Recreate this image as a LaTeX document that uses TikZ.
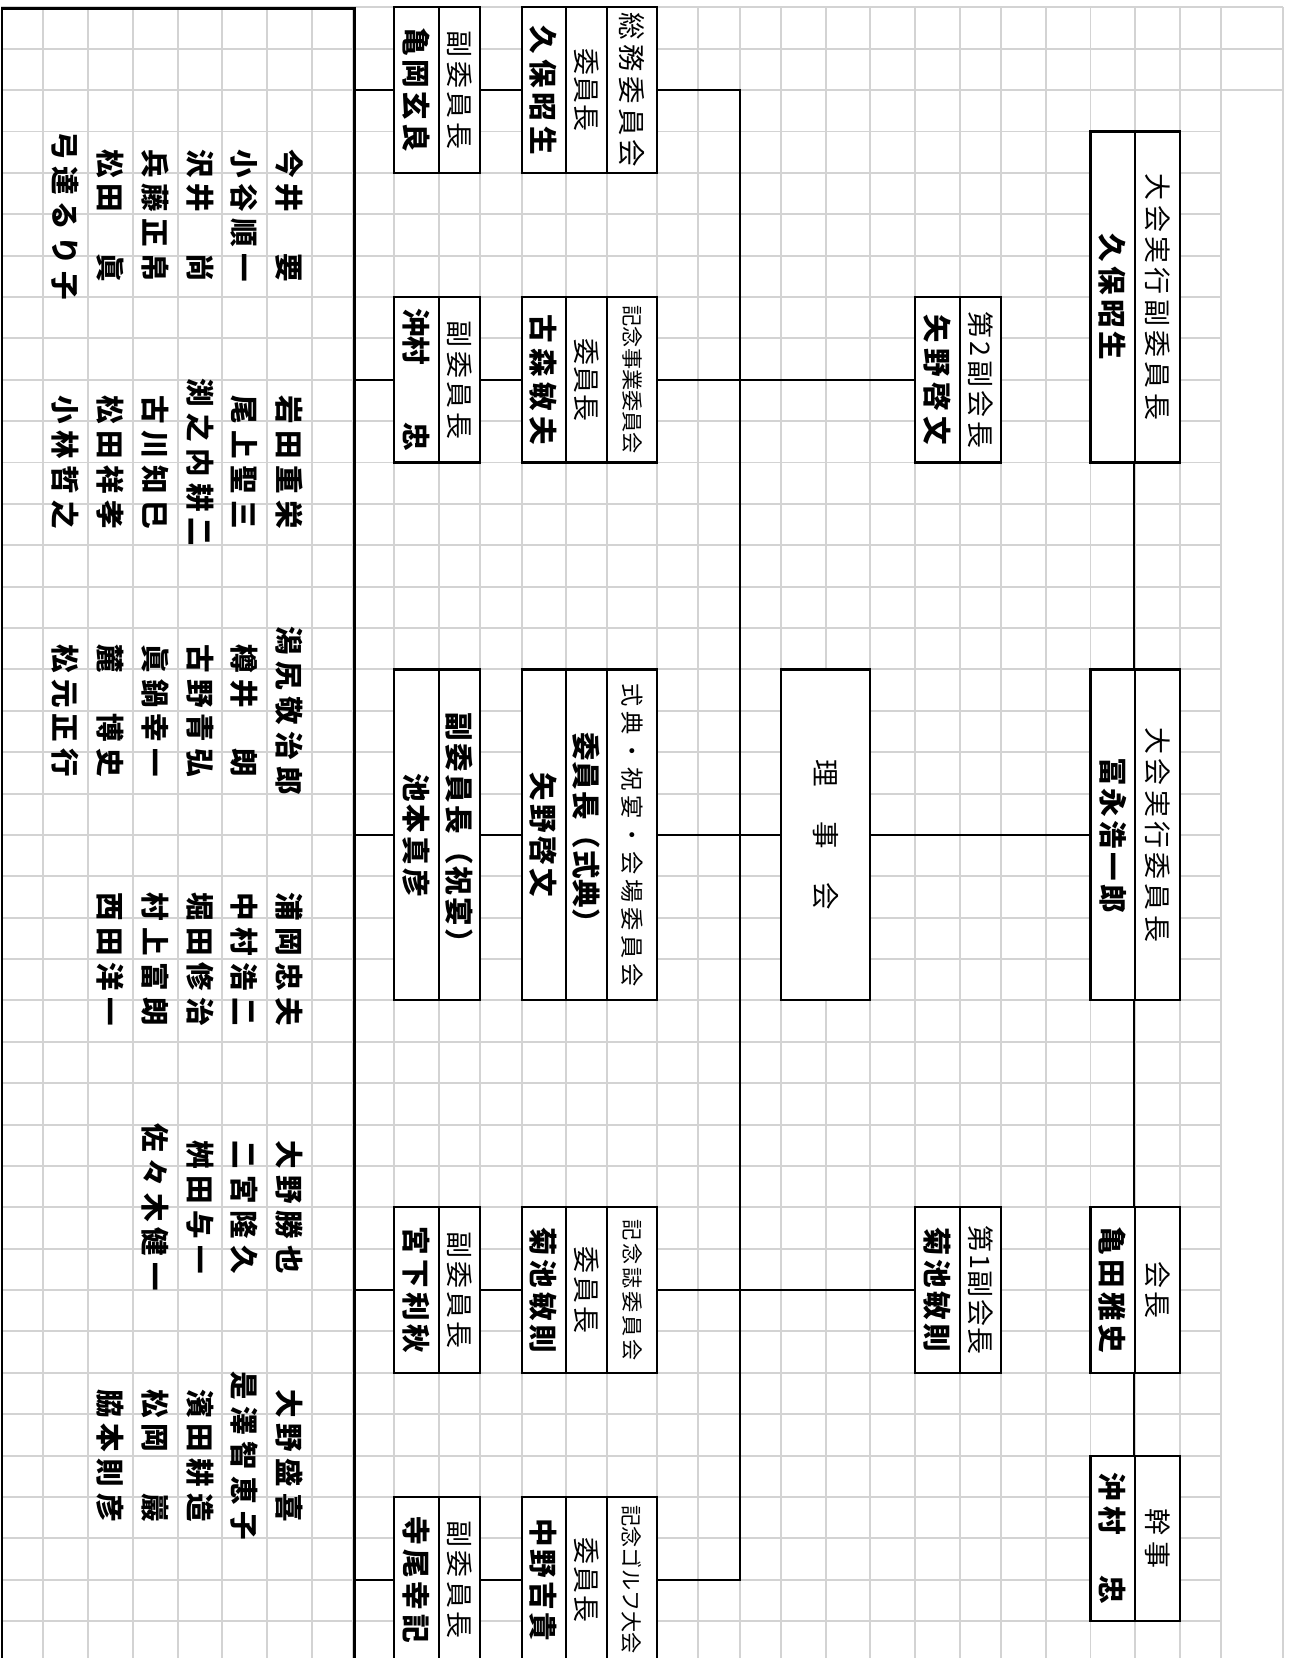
\documentclass[tikz,border=0pt]{standalone}
\usepackage{fontspec}
\usepackage{graphicx}
\newfontfamily\jp{Noto Sans CJK JP}
\definecolor{gridgray}{RGB}{211,211,211}
% full-width blank
\newcommand\zs{\phantom{国}}
% characters spread over a given length
\def\spreadA#1#2{#1\ifx\relax#2\else\hfill\expandafter\spreadA\expandafter#2\fi}
% characters with a fixed gap
\def\gapA#1#2{#1\ifx\relax#2\else\hskip6pt\expandafter\gapA\expandafter#2\fi}
\newcommand\vtext[2]{\rotatebox{-90}{\makebox[#1]{\spreadA#2\relax}}}

\begin{document}
\begin{tikzpicture}[x=1pt, y=-1pt,
	box/.style={draw, fill=white, line width=2pt, inner sep=0pt},
	ttl/.style={font=\jp\fontsize{25.5}{25.5}\selectfont},
	sml/.style={font=\jp\fontsize{20}{20}\selectfont},
	nam/.style={font=\jp\bfseries\fontsize{27}{27}\selectfont},
	link/.style={line width=2pt},
	gridline/.style={draw=gridgray, line width=1.8pt}]
	\useasboundingbox (0,0) rectangle (1222,1568);
	% grid
	\foreach \gx in {40.7,83.2,125.8,168.4,210,252.5,295.1,334.2,372.6,415.2,454,493.4,535,574,621.4,660.2,699.6,738.7,781.2,822.8,865.4,908,946.9,989.3,1031.3,1073.5,1116,1154.8,1213.5}
		\draw[gridline] (\gx,7) -- (\gx,1568);
	\foreach \j in {0,...,40}
		\draw[gridline] (1,{7+39.13*\j}) -- (1154.8,{7+39.13*\j});
	\foreach \j in {0,1,2}
		\draw[gridline] (1154.8,{7+39.13*\j}) -- (1213.5,{7+39.13*\j});
	% members
	\node[draw, line width=2pt, inner sep=0pt, anchor=north west, minimum width=333.2pt, minimum height=1620pt] (members) at (1,7) {};
	\foreach \gx/\who [count=\k] in {273.8/今井\zs 要, 231.3/小谷順一, 189.2/沢井\zs 尚, 147.1/兵藤正帛, 104.5/松田\zs 眞, 62/弓達るり子}
		\node[nam] (g1-\k) at (\gx,204) {\rotatebox{-90}{\expandafter\gapA\who\relax}};
	\foreach \gx/\who [count=\k] in {273.8/岩田重栄, 231.3/尾上聖三, 189.2/渕之内耕二, 147.1/古川知巳, 104.5/松田祥孝, 62/小林哲之}
		\node[nam] (g2-\k) at (\gx,437.4) {\rotatebox{-90}{\expandafter\gapA\who\relax}};
	\foreach \gx/\who [count=\k] in {273.8/潟尻敬治郎, 231.3/樽井\zs 朗, 189.2/古野青弘, 147.1/眞鍋幸一, 104.5/麓\zs 博史, 62/松元正行}
		\node[nam] (g3-\k) at (\gx,672.2) {\rotatebox{-90}{\expandafter\gapA\who\relax}};
	\foreach \gx/\who [count=\k] in {273.8/浦岡忠夫, 231.3/中村浩二, 189.2/堀田修治, 147.1/村上富朗, 104.5/西田洋一}
		\node[nam] (g4-\k) at (\gx,907) {\rotatebox{-90}{\expandafter\gapA\who\relax}};
	\foreach \gx/\who [count=\k] in {273.8/大野勝也, 231.3/二宮隆久, 189.2/桝田与一, 147.1/佐々木健一}
		\node[nam] (g5-\k) at (\gx,1141.8) {\rotatebox{-90}{\expandafter\gapA\who\relax}};
	\foreach \gx/\who [count=\k] in {273.8/大野盛喜, 231.3/是澤智恵子, 189.2/濱田耕造, 147.1/松岡\zs 巖, 104.5/脇本則彦}
		\node[nam] (g6-\k) at (\gx,1376.6) {\rotatebox{-90}{\expandafter\gapA\who\relax}};
	% vice chairs
	\node[box, ttl, minimum width=38.8pt, minimum height=156.5pt] (kameoka-t) at (434.6,85.25) {\vtext{112pt}{副委員長}};
	\node[box, nam, minimum width=42.6pt, minimum height=156.5pt] (kameoka-n) at (393.9,85.25) {\vtext{118pt}{亀岡玄良}};
	\node[box, ttl, minimum width=38.8pt, minimum height=156.5pt] (okimura-t) at (434.6,359.15) {\vtext{112pt}{副委員長}};
	\node[box, nam, minimum width=42.6pt, minimum height=156.5pt] (okimura-n) at (393.9,359.15) {\vtext{135pt}{沖村\zs\zs 忠}};
	\node[box, nam, minimum width=38.8pt, minimum height=313pt] (ikemoto-t) at (434.6,789.6) {\vtext{231pt}{副委員長（祝宴）}};
	\node[box, nam, minimum width=42.6pt, minimum height=313pt] (ikemoto-n) at (393.9,789.6) {\vtext{117pt}{池本真彦}};
	\node[box, ttl, minimum width=38.8pt, minimum height=156.5pt] (miyashita-t) at (434.6,1220.05) {\vtext{111pt}{副委員長}};
	\node[box, nam, minimum width=42.6pt, minimum height=156.5pt] (miyashita-n) at (393.9,1220.05) {\vtext{120pt}{宮下利秋}};
	\node[box, ttl, minimum width=38.8pt, minimum height=156.5pt] (terao-t) at (434.6,1493.95) {\vtext{112pt}{副委員長}};
	\node[box, nam, minimum width=42.6pt, minimum height=156.5pt] (terao-n) at (393.9,1493.95) {\vtext{120pt}{寺尾幸記}};
	% committees
	\node[box, font=\jp\fontsize{26}{26}\selectfont, minimum width=47.4pt, minimum height=156.5pt] (soumu-t) at (597.7,85.25) {\vtext{146pt}{総務委員会}};
	\node[box, ttl, minimum width=39pt, minimum height=156.5pt] (soumu-c) at (554.5,85.25) {\vtext{79pt}{委員長}};
	\node[box, nam, minimum width=41.6pt, minimum height=156.5pt] (soumu-n) at (514.2,85.25) {\vtext{122pt}{久保昭生}};
	\node[box, sml, minimum width=47.4pt, minimum height=156.5pt] (kinen-t) at (597.7,359.15) {\vtext{140pt}{記念事業委員会}};
	\node[box, ttl, minimum width=39pt, minimum height=156.5pt] (kinen-c) at (554.5,359.15) {\vtext{79pt}{委員長}};
	\node[box, nam, minimum width=41.6pt, minimum height=156.5pt] (kinen-n) at (514.2,359.15) {\vtext{123pt}{古森敏夫}};
	\node[box, font=\jp\fontsize{22}{22}\selectfont, minimum width=47.4pt, minimum height=313pt] (shiki-t) at (597.7,789.6) {\vtext{287pt}{式典・祝宴・会場委員会}};
	\node[box, nam, minimum width=39pt, minimum height=313pt] (shiki-c) at (554.5,789.6) {\vtext{194pt}{委員長（式典）}};
	\node[box, nam, minimum width=41.6pt, minimum height=313pt] (shiki-n) at (514.2,789.6) {\vtext{118pt}{矢野啓文}};
	\node[box, sml, minimum width=47.4pt, minimum height=156.5pt] (kaishi-t) at (597.7,1220.05) {\vtext{134pt}{記念誌委員会}};
	\node[box, ttl, minimum width=39pt, minimum height=156.5pt] (kaishi-c) at (554.5,1220.05) {\vtext{82pt}{委員長}};
	\node[box, nam, minimum width=41.6pt, minimum height=156.5pt] (kaishi-n) at (514.2,1220.05) {\vtext{119pt}{菊池敏則}};
	\node[box, sml, minimum width=47.4pt, minimum height=156.5pt] (golf-t) at (597.7,1493.95) {\vtext{140pt}{記念ゴルフ大会}};
	\node[box, ttl, minimum width=39pt, minimum height=156.5pt] (golf-c) at (554.5,1493.95) {\vtext{80pt}{委員長}};
	\node[box, nam, minimum width=41.6pt, minimum height=156.5pt] (golf-n) at (514.2,1493.95) {\vtext{116pt}{中野吉貴}};
	% board
	\node[box, font=\jp\fontsize{26}{26}\selectfont, minimum width=84.1pt, minimum height=313pt] (board) at (780.75,789.6) {\vtext{142pt}{理\zs 事\zs 会}};
	% vice presidents
	\node[box, ttl, minimum width=38.9pt, minimum height=156.5pt] (vp2-t) at (927.45,359.15) {\vtext{130pt}{第2副会長}};
	\node[box, nam, minimum width=42.6pt, minimum height=156.5pt] (vp2-n) at (886.7,359.15) {\vtext{124pt}{矢野啓文}};
	\node[box, ttl, minimum width=38.9pt, minimum height=156.5pt] (vp1-t) at (927.45,1220.05) {\vtext{122pt}{第1副会長}};
	\node[box, nam, minimum width=42.6pt, minimum height=156.5pt] (vp1-n) at (886.7,1220.05) {\vtext{118pt}{菊池敏則}};
	% top row
	\node[box, ttl, minimum width=42.5pt, minimum height=313pt] (vchair-t) at (1094.75,280.9) {\vtext{233pt}{大会実行副委員長}};
	\node[box, nam, minimum width=42.2pt, minimum height=313pt] (vchair-n) at (1052.4,280.9) {\vtext{120pt}{久保昭生}};
	\node[box, ttl, minimum width=42.5pt, minimum height=313pt] (chair-t) at (1094.75,789.6) {\vtext{203pt}{大会実行委員長}};
	\node[box, nam, minimum width=42.2pt, minimum height=313pt] (chair-n) at (1052.4,789.6) {\vtext{147pt}{冨永浩一郎}};
	\node[box, ttl, minimum width=42.5pt, minimum height=156.5pt] (pres-t) at (1094.75,1220.05) {\vtext{54pt}{会長}};
	\node[box, nam, minimum width=42.2pt, minimum height=156.5pt] (pres-n) at (1052.4,1220.05) {\vtext{120pt}{亀田雅史}};
	\node[box, ttl, minimum width=42.5pt, minimum height=156.5pt] (sec-t) at (1094.75,1454.85) {\vtext{56pt}{幹事}};
	\node[box, nam, minimum width=42.2pt, minimum height=156.5pt] (sec-n) at (1052.4,1454.85) {\vtext{124pt}{沖村\zs 忠}};
	% connectors
	\coordinate (bus) at (699.6,0);
	\draw[link] (soumu-t.east) -| (bus |- golf-t.east) -- (golf-t.east);
	\draw[link] (kinen-t.east) -- (vp2-n.west);
	\draw[link] (shiki-t.east) -- (board.west);
	\draw[link] (board.east) -- (chair-n.west);
	\draw[link] (kaishi-t.east) -- (vp1-n.west);
	\draw[link] (vchair-t.south west) -- (chair-t.north west);
	\draw[link] (chair-t.south west) -- (pres-t.north west);
	\draw[link] (pres-t.south west) -- (sec-t.north west);
	\foreach \a/\b in {kameoka/soumu, okimura/kinen, ikemoto/shiki, miyashita/kaishi, terao/golf} {
		\draw[link] (\a-t.east) -- (\b-n.west);
		\draw[link] (\a-n.west) -- (\a-n.west -| members.east);
	}
\end{tikzpicture}
\end{document}
